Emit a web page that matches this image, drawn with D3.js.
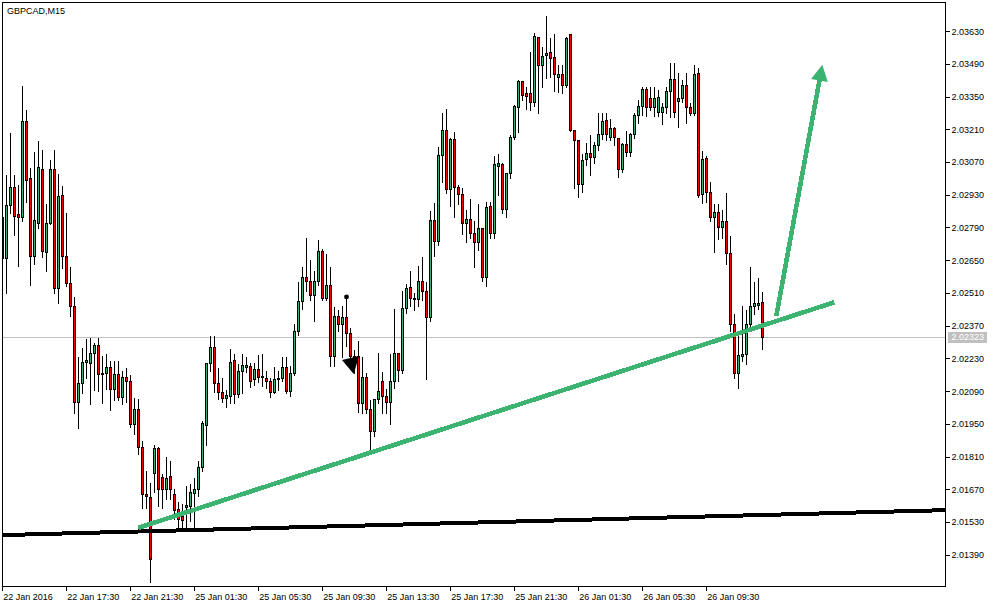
<!DOCTYPE html>
<html>
<head>
<meta charset="utf-8">
<script src="https://cdn.jsdelivr.net/npm/d3@7"></script>
<style>
  html, body { margin: 0; padding: 0; background: #fff; }
  svg { display: block; }
  text { font-family: "Liberation Sans", Arial, sans-serif; font-size: 9px; fill: #000; }
</style>
</head>
<body>
<svg id="chart" width="998" height="608"></svg>
<script>
// GBPCAD, 15-minute bars, 22 Jan 2016 13:30 .. 26 Jan 2016 13:00
const symbolTitle = "GBPCAD,M15";

const timeLabels = ["22 Jan 2016", "22 Jan 17:30", "22 Jan 21:30", "25 Jan 01:30", "25 Jan 05:30",
  "25 Jan 09:30", "25 Jan 13:30", "25 Jan 17:30", "25 Jan 21:30", "26 Jan 01:30",
  "26 Jan 05:30", "26 Jan 09:30"];
const timeLabelBars = [0, 16, 32, 48, 64, 80, 96, 112, 128, 144, 160, 176];

const priceTicks = [2.03630, 2.03490, 2.03350, 2.03210, 2.03070, 2.02930, 2.02790, 2.02650,
  2.02510, 2.02370, 2.02230, 2.02090, 2.01950, 2.01810, 2.01670, 2.01530, 2.01390];

const opens = [
  2.02833, 2.02661, 2.02884, 2.02961, 2.02846, 2.02833, 2.03244, 2.03000, 2.02670, 2.02811,
  2.03042, 2.02687, 2.02811, 2.03038, 2.02529, 2.02927, 2.02666, 2.02554, 2.02456, 2.02045,
  2.02126, 2.02216, 2.02212, 2.02255, 2.02285, 2.02169, 2.02169, 2.02195, 2.02101, 2.02165,
  2.02066, 2.02152, 2.02131, 2.01951, 2.02015, 2.01852, 2.01651, 2.01638, 2.01741, 2.01848,
  2.01724, 2.01673, 2.01728, 2.01651, 2.01587, 2.01557, 2.01596, 2.01600, 2.01655, 2.01673,
  2.01767, 2.01947, 2.02212, 2.02280, 2.02126, 2.02088, 2.02062, 2.02071, 2.02221, 2.02079,
  2.02178, 2.02195, 2.02199, 2.02143, 2.02186, 2.02156, 2.02148, 2.02135, 2.02088, 2.02143,
  2.02148, 2.02195, 2.02092, 2.02169, 2.02345, 2.02477, 2.02576, 2.02563, 2.02499, 2.02563,
  2.02691, 2.02490, 2.02542, 2.02238, 2.02413, 2.02379, 2.02405, 2.02340, 2.02238, 2.02238,
  2.02041, 2.02152, 2.02015, 2.01921, 2.02054, 2.02135, 2.02071, 2.02045, 2.02135, 2.02255,
  2.02182, 2.02447, 2.02537, 2.02490, 2.02482, 2.02563, 2.02516, 2.02409, 2.02820, 2.02730,
  2.03102, 2.03209, 2.02953, 2.03167, 2.02961, 2.02935, 2.02807, 2.02828, 2.02768, 2.02726,
  2.02786, 2.02580, 2.02880, 2.02768, 2.03055, 2.03060, 2.02871, 2.03021, 2.03179, 2.03304,
  2.03415, 2.03364, 2.03364, 2.03325, 2.03603, 2.03483, 2.03526, 2.03539, 2.03518, 2.03432,
  2.03445, 2.03398, 2.03616, 2.03205, 2.03162, 2.02974, 2.03081, 2.03107, 2.03090, 2.03141,
  2.03188, 2.03248, 2.03175, 2.03214, 2.03171, 2.03038, 2.03145, 2.03111, 2.03188, 2.03269,
  2.03308, 2.03381, 2.03342, 2.03304, 2.03286, 2.03286, 2.03304, 2.03372, 2.03423, 2.03329,
  2.03342, 2.03398, 2.03304, 2.03278, 2.03449, 2.02935, 2.03085, 2.02940, 2.02833, 2.02854,
  2.02794, 2.02816, 2.02679, 2.02375, 2.02169, 2.02242, 2.02250, 2.02375, 2.02452, 2.02460,
  2.02469
];
const highs = [
  2.02833, 2.03017, 2.03197, 2.03017, 2.02978, 2.03398, 2.03295, 2.03047, 2.03115, 2.03162,
  2.03124, 2.02893, 2.03081, 2.03124, 2.03025, 2.02970, 2.02858, 2.02623, 2.02495, 2.02238,
  2.02280, 2.02315, 2.02323, 2.02302, 2.02323, 2.02246, 2.02255, 2.02221, 2.02221, 2.02225,
  2.02182, 2.02191, 2.02165, 2.02066, 2.02062, 2.01882, 2.01754, 2.01703, 2.01865, 2.01857,
  2.01741, 2.01814, 2.01797, 2.01677, 2.01621, 2.01613, 2.01690, 2.01698, 2.01724, 2.01797,
  2.01968, 2.02212, 2.02332, 2.02332, 2.02195, 2.02152, 2.02101, 2.02276, 2.02255, 2.02208,
  2.02255, 2.02242, 2.02216, 2.02216, 2.02250, 2.02255, 2.02182, 2.02152, 2.02199, 2.02182,
  2.02242, 2.02238, 2.02203, 2.02383, 2.02559, 2.02623, 2.02751, 2.02657, 2.02606, 2.02739,
  2.02704, 2.02679, 2.02623, 2.02456, 2.02439, 2.02460, 2.02495, 2.02366, 2.02268, 2.02310,
  2.02238, 2.02173, 2.02054, 2.02062, 2.02259, 2.02178, 2.02105, 2.02255, 2.02447, 2.02259,
  2.02524, 2.02554, 2.02610, 2.02512, 2.02631, 2.02666, 2.02559, 2.02863, 2.02901, 2.03137,
  2.03282, 2.03299, 2.03175, 2.03201, 2.02974, 2.02961, 2.02871, 2.02914, 2.02820, 2.02893,
  2.02794, 2.02905, 2.02905, 2.03098, 2.03107, 2.03068, 2.03025, 2.03188, 2.03316, 2.03423,
  2.03419, 2.03394, 2.03543, 2.03625, 2.03603, 2.03565, 2.03698, 2.03603, 2.03620, 2.03488,
  2.03488, 2.03608, 2.03616, 2.03205, 2.03162, 2.03107, 2.03154, 2.03188, 2.03158, 2.03282,
  2.03282, 2.03282, 2.03257, 2.03222, 2.03171, 2.03154, 2.03209, 2.03197, 2.03286, 2.03338,
  2.03394, 2.03394, 2.03394, 2.03394, 2.03381, 2.03325, 2.03394, 2.03496, 2.03496, 2.03453,
  2.03423, 2.03453, 2.03325, 2.03488, 2.03475, 2.03120, 2.03098, 2.02987, 2.02893, 2.02893,
  2.02867, 2.02940, 2.02756, 2.02426, 2.02340, 2.02460, 2.02439, 2.02623, 2.02563, 2.02576,
  2.02520
];
const lows = [
  2.02661, 2.02512, 2.02858, 2.02760, 2.02631, 2.02820, 2.02905, 2.02550, 2.02636, 2.02794,
  2.02666, 2.02606, 2.02811, 2.02512, 2.02469, 2.02619, 2.02542, 2.02417, 2.02002, 2.01938,
  2.02084, 2.02152, 2.02041, 2.02101, 2.02096, 2.02045, 2.02105, 2.02015, 2.02054, 2.02054,
  2.02041, 2.02049, 2.01942, 2.01912, 2.01827, 2.01596, 2.01596, 2.01279, 2.01664, 2.01604,
  2.01596, 2.01634, 2.01634, 2.01548, 2.01510, 2.01510, 2.01510, 2.01540, 2.01506, 2.01647,
  2.01754, 2.01865, 2.02182, 2.02092, 2.02062, 2.02049, 2.02028, 2.02045, 2.02045, 2.02071,
  2.02084, 2.02178, 2.02113, 2.02122, 2.02135, 2.02118, 2.02109, 2.02071, 2.02084, 2.02101,
  2.02139, 2.02084, 2.02075, 2.02161, 2.02336, 2.02447, 2.02524, 2.02482, 2.02396, 2.02546,
  2.02486, 2.02482, 2.02203, 2.02203, 2.02353, 2.02238, 2.02289, 2.02225, 2.02173, 2.02006,
  2.02002, 2.02002, 2.01840, 2.01904, 2.02045, 2.02002, 2.02002, 2.01955, 2.02109, 2.02139,
  2.02173, 2.02430, 2.02460, 2.02439, 2.02460, 2.02482, 2.02148, 2.02396, 2.02674, 2.02721,
  2.02987, 2.02940, 2.02884, 2.02837, 2.02893, 2.02768, 2.02730, 2.02751, 2.02623, 2.02696,
  2.02567, 2.02542, 2.02751, 2.02751, 2.02931, 2.02858, 2.02837, 2.03004, 2.03171, 2.03201,
  2.03338, 2.03299, 2.03295, 2.03312, 2.03286, 2.03394, 2.03432, 2.03436, 2.03376, 2.03372,
  2.03368, 2.03394, 2.03205, 2.02965, 2.02923, 2.02948, 2.03060, 2.03017, 2.03072, 2.03124,
  2.03171, 2.03167, 2.03167, 2.03145, 2.03012, 2.03030, 2.03098, 2.03102, 2.03179, 2.03239,
  2.03274, 2.03269, 2.03295, 2.03269, 2.03269, 2.03235, 2.03286, 2.03265, 2.03265, 2.03222,
  2.03329, 2.03239, 2.03274, 2.03274, 2.02923, 2.02897, 2.02905, 2.02824, 2.02691, 2.02747,
  2.02751, 2.02640, 2.02353, 2.02152, 2.02109, 2.02225, 2.02208, 2.02353, 2.02426, 2.02447,
  2.02276
];
const closes = [
  2.02661, 2.02888, 2.02961, 2.02841, 2.02833, 2.03244, 2.02995, 2.02670, 2.02820, 2.03047,
  2.02691, 2.02811, 2.03038, 2.02533, 2.02923, 2.02670, 2.02554, 2.02456, 2.02045, 2.02126,
  2.02216, 2.02221, 2.02255, 2.02289, 2.02165, 2.02161, 2.02195, 2.02101, 2.02165, 2.02066,
  2.02152, 2.02131, 2.01951, 2.02015, 2.01852, 2.01651, 2.01643, 2.01373, 2.01848, 2.01673,
  2.01673, 2.01720, 2.01673, 2.01583, 2.01544, 2.01540, 2.01604, 2.01660, 2.01673, 2.01767,
  2.01955, 2.02212, 2.02280, 2.02126, 2.02088, 2.02062, 2.02075, 2.02216, 2.02079, 2.02178,
  2.02203, 2.02203, 2.02135, 2.02186, 2.02152, 2.02152, 2.02131, 2.02088, 2.02143, 2.02148,
  2.02191, 2.02092, 2.02169, 2.02345, 2.02477, 2.02576, 2.02559, 2.02499, 2.02563, 2.02691,
  2.02490, 2.02542, 2.02238, 2.02413, 2.02379, 2.02405, 2.02340, 2.02238, 2.02203, 2.02041,
  2.02152, 2.02015, 2.01921, 2.02054, 2.02092, 2.02071, 2.02045, 2.02135, 2.02255, 2.02182,
  2.02447, 2.02533, 2.02490, 2.02482, 2.02563, 2.02516, 2.02409, 2.02820, 2.02730, 2.03102,
  2.03209, 2.02953, 2.03167, 2.02961, 2.02931, 2.02807, 2.02828, 2.02768, 2.02726, 2.02786,
  2.02580, 2.02876, 2.02768, 2.03060, 2.03064, 2.02867, 2.03021, 2.03179, 2.03308, 2.03415,
  2.03355, 2.03351, 2.03325, 2.03608, 2.03483, 2.03522, 2.03535, 2.03513, 2.03445, 2.03445,
  2.03398, 2.03599, 2.03205, 2.03162, 2.02974, 2.03077, 2.03107, 2.03090, 2.03141, 2.03188,
  2.03244, 2.03188, 2.03214, 2.03175, 2.03038, 2.03145, 2.03111, 2.03188, 2.03269, 2.03308,
  2.03381, 2.03304, 2.03304, 2.03342, 2.03346, 2.03304, 2.03372, 2.03423, 2.03286, 2.03342,
  2.03398, 2.03304, 2.03278, 2.03445, 2.02927, 2.03081, 2.02940, 2.02833, 2.02854, 2.02794,
  2.02816, 2.02679, 2.02375, 2.02169, 2.02246, 2.02250, 2.02375, 2.02452, 2.02465, 2.02465,
  2.02323
];

const bidPrice = 2.02323;

// Drawn objects: [bar, price] anchor pairs
const supportLine = [[0, 2.01476], [190, 2.01562]];   // ray extended to the right edge
const trendLine = [[34, 2.01507], [208, 2.02472]];
const targetArrow = [[193.5, 2.02413], [205, 2.03488]];
const dotMark = [86, 2.02495];
const sellMark = [88, 2.02238];

const colors = { up: "#3cb371", down: "#ff0000", grid: "#c0c0c0", line: "#3cb371" };

// ---------------------------------------------------------------------------
const svg = d3.select("#chart");
const frame = { left: 2.5, top: 2.5, right: 945.5, bottom: 586.5 };

const x = d3.scaleLinear().domain([0, 190]).range([2.3, 762.3]);      // 4 px per bar
const y = d3.scaleLinear().domain([2.01390, 2.03630]).range([555.2, 31.6]);
const snap = v => Math.floor(v) + 0.5;
const lastBarAtEdge = x.invert(frame.right);

svg.append("defs").append("clipPath").attr("id", "plotClip")
  .append("rect")
  .attr("x", frame.left).attr("y", frame.top)
  .attr("width", frame.right - frame.left).attr("height", frame.bottom - frame.top);

const plot = svg.append("g").attr("clip-path", "url(#plotClip)");

// bid line
plot.append("line")
  .attr("x1", frame.left).attr("x2", frame.right)
  .attr("y1", snap(y(bidPrice))).attr("y2", snap(y(bidPrice)))
  .attr("stroke", colors.grid).attr("stroke-width", 1)
  .attr("shape-rendering", "crispEdges");

// candles
const bars = d3.range(opens.length).map(i => ({
  i, o: opens[i], h: highs[i], l: lows[i], c: closes[i]
}));

const candle = plot.append("g").attr("shape-rendering", "crispEdges")
  .selectAll("g").data(bars).join("g");

candle.append("line")
  .attr("x1", d => snap(x(d.i))).attr("x2", d => snap(x(d.i)))
  .attr("y1", d => snap(y(d.h))).attr("y2", d => snap(y(d.l)) + 1)
  .attr("stroke", "#000").attr("stroke-width", 1);

candle.append("rect")
  .attr("x", d => snap(x(d.i)) - 1)
  .attr("y", d => snap(y(Math.max(d.o, d.c))))
  .attr("width", 2)
  .attr("height", d => Math.max(0, snap(y(Math.min(d.o, d.c))) - snap(y(Math.max(d.o, d.c)))))
  .attr("fill", d => d.c >= d.o ? colors.up : colors.down)
  .attr("stroke", "#000").attr("stroke-width", 1);

// support ray (black)
{
  const [[b0, p0], [b1, p1]] = supportLine;
  const slope = (p1 - p0) / (b1 - b0);
  plot.append("line")
    .attr("x1", x(b0)).attr("y1", y(p0))
    .attr("x2", x(lastBarAtEdge)).attr("y2", y(p0 + slope * (lastBarAtEdge - b0)))
    .attr("stroke", "#000").attr("stroke-width", 4)
    .attr("shape-rendering", "crispEdges");
}

// rising trend line (green)
plot.append("line")
  .attr("x1", x(trendLine[0][0])).attr("y1", y(trendLine[0][1]))
  .attr("x2", x(trendLine[1][0])).attr("y2", y(trendLine[1][1]))
  .attr("stroke", colors.line).attr("stroke-width", 4.6)
  .attr("shape-rendering", "crispEdges");

// target arrow (green)
{
  const [sx, sy] = [x(targetArrow[0][0]), y(targetArrow[0][1])];
  const [tx, ty] = [x(targetArrow[1][0]), y(targetArrow[1][1])];
  const len = Math.hypot(tx - sx, ty - sy);
  const ux = (tx - sx) / len, uy = (ty - sy) / len;
  const headLen = 16, headHalf = 8.5;
  const bx = tx - ux * headLen, by = ty - uy * headLen;
  plot.append("line")
    .attr("x1", sx).attr("y1", sy).attr("x2", bx + ux * 2).attr("y2", by + uy * 2)
    .attr("stroke", colors.line).attr("stroke-width", 4.6)
    .attr("shape-rendering", "crispEdges");
  plot.append("path")
    .attr("d", `M${tx},${ty}L${bx - uy * headHalf},${by + ux * headHalf}L${bx + uy * headHalf},${by - ux * headHalf}Z`)
    .attr("fill", colors.line);
}

// dot marker
plot.append("circle")
  .attr("cx", snap(x(dotMark[0]))).attr("cy", y(dotMark[1]))
  .attr("r", 2.4).attr("fill", "#000");

// sell marker (black wedge)
{
  const ax = x(sellMark[0]), ay = y(sellMark[1]);
  plot.append("path")
    .attr("transform", `translate(${ax},${ay})`)
    .attr("d", "M-12.3,3L4.7,-1L-0.6,17Z")
    .attr("fill", "#000");
}

// frame
svg.append("rect")
  .attr("x", frame.left).attr("y", frame.top)
  .attr("width", frame.right - frame.left).attr("height", frame.bottom - frame.top)
  .attr("fill", "none").attr("stroke", "#000").attr("stroke-width", 1)
  .attr("shape-rendering", "crispEdges");

// price axis
const yAxis = svg.append("g")
  .attr("transform", `translate(${frame.right},0)`)
  .call(d3.axisRight(y).tickValues(priceTicks).tickFormat(d3.format(".5f"))
    .tickSize(4).tickPadding(2).offset(0));
yAxis.select(".domain").remove();
yAxis.selectAll("line").attr("stroke", "#000").attr("shape-rendering", "crispEdges");
yAxis.selectAll("text").attr("font-family", null).attr("font-size", null).attr("dy", "0.33em");

// time axis
const xAxis = svg.append("g")
  .attr("transform", `translate(0,${frame.bottom})`)
  .call(d3.axisBottom(x).tickValues(timeLabelBars).tickFormat((d, i) => timeLabels[i])
    .tickSize(4).tickPadding(3).offset(0));
xAxis.select(".domain").remove();
xAxis.selectAll("line").attr("stroke", "#000").attr("shape-rendering", "crispEdges");
xAxis.selectAll("text").attr("font-family", null).attr("font-size", null)
  .attr("text-anchor", "start").attr("x", 1);

// bid price tag
{
  const yy = snap(y(bidPrice));
  svg.append("rect")
    .attr("x", 948).attr("y", yy - 5.5).attr("width", 39).attr("height", 11)
    .attr("fill", colors.grid);
  svg.append("text")
    .attr("x", frame.right + 6).attr("y", yy).attr("dy", "0.33em")
    .style("fill", "#fff")
    .text(d3.format(".5f")(bidPrice));
}

// symbol caption
svg.append("text").attr("x", 7).attr("y", 13.5).text(symbolTitle);
</script>
</body>
</html>
